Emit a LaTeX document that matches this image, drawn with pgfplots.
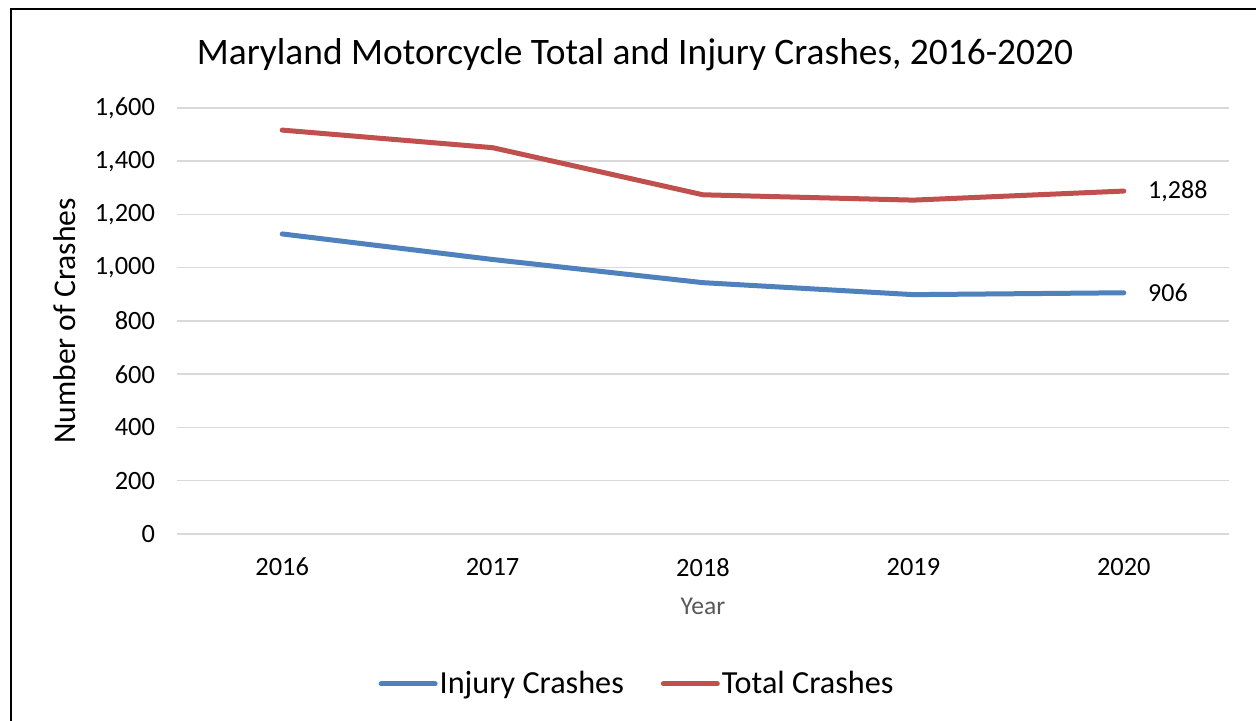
\documentclass[border=0pt]{standalone}
\usepackage{fontspec}
\setmainfont{Carlito}
\usepackage{pgfplots}
\pgfplotsset{compat=1.18}
\definecolor{injblue}{HTML}{4F81BD}
\definecolor{totred}{HTML}{C0504D}
\definecolor{gridgray}{HTML}{D9D9D9}
\definecolor{labgray}{HTML}{595959}
\begin{document}
\begin{tikzpicture}
\useasboundingbox (0,0) rectangle (628bp,360.5bp);
\fill[white] (0,0) rectangle (628bp,360.5bp);
\draw[black, line width=1bp] (5.25bp,0) -- (5.25bp,355.75bp) -- (628bp,355.75bp);
\node[font=\fontsize{18.7bp}{22bp}\selectfont] at (317.5bp,333bp) {Maryland Motorcycle Total and Injury Crashes, 2016-2020};
\begin{axis}[
  scale only axis,
  at={(88.5bp,93.5bp)}, anchor=south west,
  width=526bp, height=213bp,
  xmin=-0.5, xmax=4.5, ymin=0, ymax=1600,
  xtick={0,1,2,3,4},
  xticklabels={2016,2017,2018,2019,2020},
  ytick={0,200,400,600,800,1000,1200,1400,1600},
  ymajorgrids,
  grid style={gridgray, line width=0.75bp},
  axis line style={draw=none},
  tick style={draw=none},
  major tick length=0pt,
  /pgf/number format/assume math mode=true,
  /pgf/number format/1000 sep={,},
  ticklabel style={font=\fontsize{13.2bp}{15bp}\selectfont},
  yticklabel style={xshift=-7.5bp},
  xticklabel style={yshift=-8.5bp},
  xlabel={Year},
  xlabel style={font=\fontsize{12.8bp}{15bp}\selectfont, text=labgray, at={(0.5,-0.17)}, anchor=center},
  ylabel={Number of Crashes},
  ylabel style={font=\fontsize{15.8bp}{18bp}\selectfont, at={(-0.1065,0.5)}, anchor=center, rotate=0},
  legend columns=-1,
  legend style={draw=none, fill=none, at={(0.4373,-0.352)}, anchor=center,
    font=\fontsize{16.1bp}{19bp}\selectfont,
    /tikz/every even column/.append style={column sep=17.5bp},
    inner sep=0pt, nodes={inner sep=1bp}},
  legend image code/.code={\draw[#1, line width=2.5bp, line cap=round] (0bp,0bp) -- (27bp,0bp);},
  clip=false,
]
\addplot[injblue, line width=2.5bp, line cap=round, line join=round] coordinates {(0,1127) (1,1031) (2,944) (3,899) (4,906)};
\addlegendentry{Injury Crashes}
\addplot[totred, line width=2.5bp, line cap=round, line join=round] coordinates {(0,1517) (1,1451) (2,1274) (3,1254) (4,1288)};
\addlegendentry{Total Crashes}
\node[anchor=west, font=\fontsize{13bp}{15bp}\selectfont, inner sep=0pt] at (axis cs:4,1288) [xshift=12bp] {1,288};
\node[anchor=west, font=\fontsize{13bp}{15bp}\selectfont, inner sep=0pt] at (axis cs:4,906) [xshift=12bp] {906};
\end{axis}
\end{tikzpicture}
\end{document}
